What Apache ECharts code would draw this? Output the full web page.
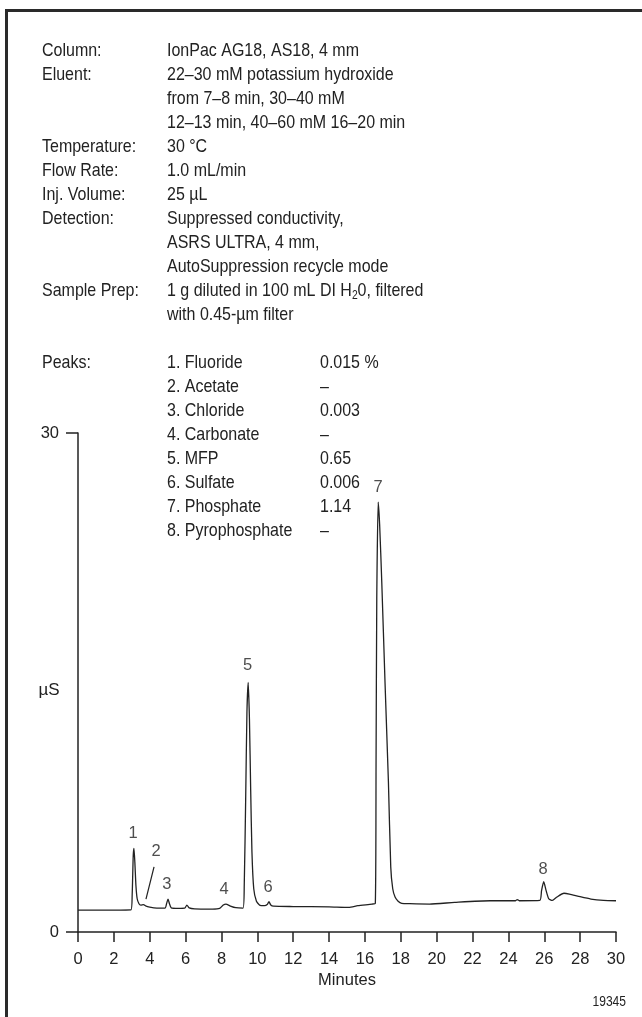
<!DOCTYPE html>
<html>
<head>
<meta charset="utf-8">
<script src="https://cdn.jsdelivr.net/npm/echarts@6/dist/echarts.min.js"></script>
<style>
html,body{margin:0;padding:0;background:#fff;}
#c{width:642px;height:1017px;}
</style>
</head>
<body>
<div id="c"></div>
<script>
// ---- data ----
const infoLabels = ['Column:', 'Eluent:', '', '', 'Temperature:', 'Flow Rate:', 'Inj. Volume:', 'Detection:', '', '', 'Sample Prep:', '', '', 'Peaks:'];
const infoValues = ['IonPac AG18, AS18, 4 mm', '22\u201330 mM potassium hydroxide', 'from 7\u20138 min, 30\u201340 mM',
  '12\u201313 min, 40\u201360 mM 16\u201320 min', '30 \u00b0C', '1.0 mL/min', '25 \u00b5L', 'Suppressed conductivity,',
  'ASRS ULTRA, 4 mm,', 'AutoSuppression recycle mode', '1 g diluted in 100 mL DI H{sub|2}0, filtered', 'with 0.45-\u00b5m filter'];
const peakNames = ['1. Fluoride', '2. Acetate', '3. Chloride', '4. Carbonate', '5. MFP', '6. Sulfate', '7. Phosphate', '8. Pyrophosphate'];
const peakAmounts = ['0.015 %', '\u2013', '0.003', '\u2013', '0.65', '0.006', '1.14', '\u2013'];

const xTicks = [0, 30];           // axis range (minutes)
const yTicks = [0, 30];           // axis range (µS)
const figureId = '19345';

// chromatogram trace: time (min), conductivity (µS)
const traceTime = [0, 1, 2, 2.95, 3.02, 3.08, 3.12, 3.17, 3.23, 3.3, 3.4, 3.5, 3.65, 3.8, 4.0, 4.4, 4.85, 4.95, 5.02, 5.1, 5.2, 5.6,
  5.95, 6.07, 6.2, 6.5, 7.5, 7.9, 8.1, 8.25, 8.5, 8.8, 9.2, 9.27, 9.35, 9.42, 9.49, 9.56, 9.63, 9.7, 9.8, 9.95, 10.15, 10.4,
  10.55, 10.65, 10.75, 10.9, 12, 14, 15.1, 15.6, 16.4, 16.58, 16.62, 16.66, 16.74, 16.82, 16.94, 17.12, 17.31, 17.44, 17.55,
  17.68, 17.85, 18.05, 18.5, 19.6, 21, 22.98, 24.4, 24.5, 24.6, 25.75, 25.85, 25.97, 26.1, 26.25, 26.45, 26.7, 27.1, 27.4,
  28, 28.6, 29.3, 30];
const traceValue = [1.32, 1.32, 1.32, 1.33, 2.2, 4.6, 5.03, 4.2, 2.8, 2.0, 1.7, 1.62, 1.65, 1.55, 1.5, 1.44, 1.43, 1.75, 1.97, 1.7, 1.45, 1.42,
  1.43, 1.62, 1.45, 1.39, 1.38, 1.42, 1.62, 1.68, 1.56, 1.46, 1.44, 2.8, 8, 13.2, 15.0, 12.8, 8.5, 4.8, 2.6, 1.85, 1.6, 1.58,
  1.65, 1.82, 1.62, 1.55, 1.53, 1.51, 1.48, 1.58, 1.68, 1.72, 10, 20, 25.85, 24.5, 21, 15, 9, 3.9, 2.6,
  2.1, 1.85, 1.72, 1.7, 1.68, 1.78, 1.88, 1.88, 1.95, 1.88, 1.9, 2.5, 3.02, 2.5, 2.0, 1.9, 2.1, 2.33, 2.28,
  2.12, 1.98, 1.9, 1.88];

// peak number labels: label, time, µS (label centre)
const peakLabelText = ['1', '2', '3', '4', '5', '6', '7', '8'];
const peakLabelTime = [3.07, 4.35, 4.96, 8.14, 9.45, 10.6, 16.73, 25.93];
const peakLabelValue = [5.95, 4.87, 2.83, 2.53, 16.05, 2.65, 26.7, 3.79];
// leader line for peak 2: [time, µS] pairs
const peak2Leader = [[3.79, 1.98], [4.24, 3.91]];

// ---- layout / style ----
const FONT = '"Liberation Sans", Arial, sans-serif';
const INK = '#222';
const rowTop = 51, rowStep = 24;
const colLabel = 42, colValue = 167, colAmount = 320;
const textSize = 18.6, narrow = 0.86;

const graphics = [];
// frame (top and left edges)
graphics.push({type: 'line', shape: {x1: 5, y1: 10.5, x2: 642, y2: 10.5}, style: {stroke: '#2a2a2a', lineWidth: 3}});
graphics.push({type: 'line', shape: {x1: 6.5, y1: 9, x2: 6.5, y2: 1017}, style: {stroke: '#2a2a2a', lineWidth: 3}});

function addText(x, y, txt) {
  graphics.push({
    type: 'text', x: x, y: y, scaleX: narrow,
    style: {text: txt, font: textSize + 'px ' + FONT, fill: INK, textVerticalAlign: 'middle', textAlign: 'left',
      rich: {sub: {fontSize: 12, fontFamily: FONT, fill: INK, padding: [9, 0, 0, 0]}}}
  });
}
infoLabels.forEach((t, i) => { if (t) addText(colLabel, rowTop + i * rowStep, t); });
infoValues.forEach((t, i) => { addText(colValue, rowTop + i * rowStep, t); });
const peakRow0 = 13;
peakNames.forEach((t, i) => { addText(colValue, rowTop + (peakRow0 + i) * rowStep, t); });
peakAmounts.forEach((t, i) => { addText(colAmount, rowTop + (peakRow0 + i) * rowStep, t); });
// y axis unit
graphics.push({type: 'text', x: 49, y: 690, style: {text: '\u00b5S', font: '17px ' + FONT, fill: INK, textAlign: 'center', textVerticalAlign: 'middle'}});
// figure id
graphics.push({type: 'text', x: 626, y: 1002, scaleX: narrow, style: {text: figureId, font: '14px ' + FONT, fill: INK, textAlign: 'right', textVerticalAlign: 'middle'}, originX: 0});

const chart = echarts.init(document.getElementById('c'));
chart.setOption({
  animation: false,
  backgroundColor: '#fff',
  grid: {left: 78, right: 26, top: 433, bottom: 85, containLabel: false},
  xAxis: {
    type: 'value', min: xTicks[0], max: xTicks[1], interval: 2,
    name: 'Minutes', nameLocation: 'middle', nameGap: 40,
    nameTextStyle: {fontFamily: FONT, fontSize: 16.5, color: INK},
    axisLine: {show: true, lineStyle: {color: INK, width: 1.5}},
    axisTick: {show: true, length: 10, lineStyle: {color: INK, width: 1.5}},
    axisLabel: {fontFamily: FONT, fontSize: 16.5, color: INK, margin: 19},
    splitLine: {show: false}
  },
  yAxis: {
    type: 'value', min: yTicks[0], max: yTicks[1], interval: 30,
    axisLine: {show: true, lineStyle: {color: INK, width: 1.5}},
    axisTick: {show: true, length: 12, lineStyle: {color: INK, width: 1.5}},
    axisLabel: {fontFamily: FONT, fontSize: 16.5, color: INK, margin: 19},
    splitLine: {show: false}
  },
  series: [
    {
      type: 'line', showSymbol: false, smooth: 0.2, silent: true,
      data: traceTime.map((t, i) => [t, traceValue[i]]),
      lineStyle: {color: INK, width: 1.3}
    },
    {
      type: 'scatter', symbolSize: 0, silent: true,
      data: peakLabelText.map((s, i) => ({name: s, value: [peakLabelTime[i], peakLabelValue[i]]})),
      label: {show: true, position: 'inside', formatter: '{b}', fontFamily: FONT, fontSize: 16.5, color: INK},
      markLine: {
        silent: true, symbol: ['none', 'none'],
        lineStyle: {color: INK, width: 1.2, type: 'solid'},
        label: {show: false},
        data: [[{coord: peak2Leader[0]}, {coord: peak2Leader[1]}]]
      }
    }
  ],
  graphic: graphics
});
</script>
</body>
</html>
